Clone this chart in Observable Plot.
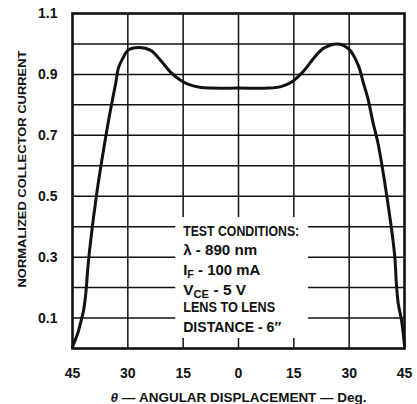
<!DOCTYPE html>
<html>
<head>
<meta charset="utf-8">
<script src="https://cdn.jsdelivr.net/npm/d3@7"></script>
<script src="https://cdn.jsdelivr.net/npm/@observablehq/plot@0.6"></script>
<style>
  html, body { margin: 0; padding: 0; background: #fff; }
  svg { display: block; }
</style>
</head>
<body>
<div id="chart"></div>
<script>
// Angular displacement (deg) and normalized collector current
const angles = [-45, -43.6, -42.8, -42.0, -41.4, -40.9, -40.4, -38.3, -35.7, -34.6, -33.3, -32.5, -31.4, -30.0, -27.0, -23.8, -21.1, -18.3, -15.6, -13.7, -10.2, -7.5, 0, 8, 11.5, 14.3, 17.8, 20.5, 23.2, 27.0, 30.0, 32.5, 33.8, 35.1, 36.5, 37.8, 40.1, 42.3, 42.8, 43.3, 44.2, 45];
const current = [0.005, 0.049, 0.085, 0.125, 0.18, 0.256, 0.32, 0.52, 0.716, 0.79, 0.87, 0.923, 0.952, 0.979, 0.988, 0.979, 0.946, 0.906, 0.88, 0.868, 0.857, 0.855, 0.855, 0.855, 0.86, 0.874, 0.913, 0.955, 0.987, 1.0, 0.982, 0.929, 0.874, 0.82, 0.74, 0.675, 0.509, 0.31, 0.213, 0.148, 0.092, 0.01];

const xTicks = [-45, -30, -15, 0, 15, 30, 45];
const yTicks = [0.1, 0.3, 0.5, 0.7, 0.9, 1.1];
const xGrid = [-30, -15, 0, 15, 30];
const yGrid = [0.1, 0.2, 0.3, 0.4, 0.5, 0.6, 0.7, 0.8, 0.9, 1.0];

const conditions = ["TEST CONDITIONS:", "λ - 890 nm", "IF - 100 mA", "VCE - 5 V", "LENS TO LENS", "DISTANCE - 6″"];
const conditionY = [0.384, 0.322, 0.258, 0.192, 0.135, 0.069];
const conditionWidth = [116, 74, 77, 63, 92, 98];
const conditionBox = [{x1: -17, x2: 19, y1: 0.033, y2: 0.43}];

const yLabel = "NORMALIZED COLLECTOR CURRENT";
const xLabel = "θ — ANGULAR DISPLACEMENT — Deg.";

const data = angles.map((a, i) => ({angle: a, value: current[i]}));
const notes = conditions.map((t, i) => ({text: t, y: conditionY[i]}));

const FONT = "'Liberation Sans', Arial, sans-serif";

const chart = Plot.plot({
  width: 417,
  height: 404,
  marginLeft: 72,
  marginRight: 13,
  marginTop: 13,
  marginBottom: 56,
  style: {fontFamily: FONT, fontSize: "14px", fontWeight: "bold", color: "#111", background: "#fff"},
  x: {domain: [-45, 45], ticks: xTicks, tickFormat: d => Math.abs(d), tickSize: 0, tickPadding: 20, label: null},
  y: {domain: [0, 1.1], ticks: yTicks, tickFormat: d3.format(".1f"), tickSize: 0, tickPadding: 15, label: null},
  marks: [
    Plot.ruleY(yGrid, {stroke: "#111", strokeWidth: 1.5}),
    Plot.ruleX(xGrid, {stroke: "#111", strokeWidth: 1.5}),
    Plot.rect(conditionBox, {x1: "x1", x2: "x2", y1: "y1", y2: "y2", fill: "white"}),
    Plot.frame({stroke: "#111", strokeWidth: 2.6}),
    Plot.line(data, {x: "angle", y: "value", curve: "catmull-rom", stroke: "#111", strokeWidth: 3}),
    Plot.text(notes, {x: -15, y: "y", text: "text", textAnchor: "start", fontSize: 14.5, fill: "#111", className: "cond"}),
    Plot.text([yLabel], {frameAnchor: "left", textAnchor: "middle", lineAnchor: "middle", dx: -50, dy: -12, rotate: -90, fontSize: 11.5, fill: "#111", className: "ylab"}),
    Plot.text([xLabel], {frameAnchor: "bottom", textAnchor: "middle", lineAnchor: "middle", dy: 49, dx: 0, fontSize: 13, fill: "#111", className: "xlab"})
  ]
});

document.getElementById("chart").appendChild(chart);

const svg = d3.select(chart);
// Condensed look: squeeze texts to the widths measured on the reference
svg.selectAll("g.cond text").each(function() {
  const el = d3.select(this);
  const t = el.text();
  const idx = conditions.indexOf(t);
  if (t.startsWith("IF")) {
    el.text("");
    el.append("tspan").text("I");
    el.append("tspan").attr("font-size", "10.5").attr("dy", "3").text("F");
    el.append("tspan").attr("dy", "-3").text(" - 100 mA");
  } else if (t.startsWith("VCE")) {
    el.text("");
    el.append("tspan").text("V");
    el.append("tspan").attr("font-size", "10.5").attr("dy", "3").text("CE");
    el.append("tspan").attr("dy", "-3").text(" - 5 V");
  }
  if (idx >= 0) el.attr("textLength", conditionWidth[idx]).attr("lengthAdjust", "spacingAndGlyphs");
});
svg.selectAll("g.ylab text").attr("textLength", 237).attr("lengthAdjust", "spacingAndGlyphs");
svg.selectAll("g.xlab text").each(function() {
  const el = d3.select(this);
  const t = el.text();
  el.text("");
  el.append("tspan").attr("font-style", "italic").text(t.slice(0, 1));
  el.append("tspan").text(t.slice(1));
  el.attr("textLength", 256).attr("lengthAdjust", "spacingAndGlyphs");
});
</script>
</body>
</html>
